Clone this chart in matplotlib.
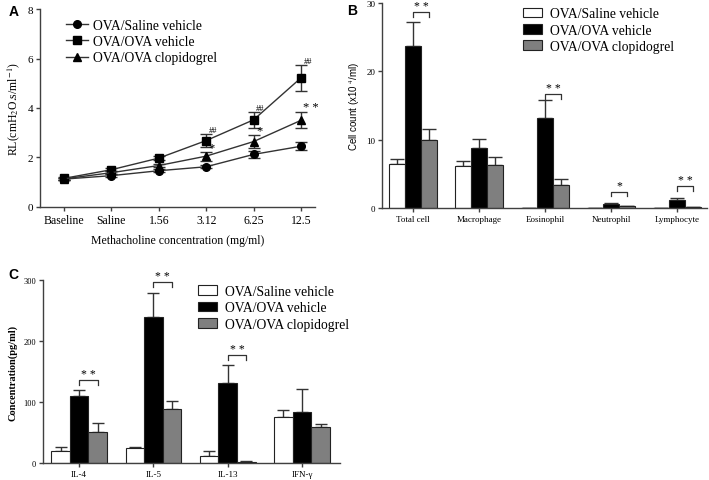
import matplotlib
matplotlib.use('Agg')
import numpy as np
import matplotlib.pyplot as plt
from matplotlib.patches import Patch
from matplotlib.lines import Line2D

plt.rcParams['font.family'] = ['Liberation Serif', 'DejaVu Serif']
plt.rcParams['mathtext.fontset'] = 'stix'

groups = ['OVA/Saline vehicle', 'OVA/OVA vehicle', 'OVA/OVA clopidogrel']

# panel A - lung resistance
doses = ['Baseline', 'Saline', '1.56', '3.12', '6.25', '12.5']
rl_saline = [1.12, 1.26, 1.46, 1.62, 2.12, 2.45]
rl_saline_err = [0.05, 0.05, 0.06, 0.07, 0.13, 0.16]
rl_ova = [1.15, 1.50, 1.97, 2.68, 3.52, 5.22]
rl_ova_err = [0.05, 0.06, 0.08, 0.28, 0.32, 0.52]
rl_clop = [1.13, 1.38, 1.67, 2.05, 2.64, 3.50]
rl_clop_err = [0.05, 0.05, 0.07, 0.18, 0.26, 0.33]
ova_marks = ['', '', '', '##', '##', '##']
clop_marks = ['', '', '', '*', '*', '**']

# panel B - BALF cells
cells = ['Total cell', 'Macrophage', 'Eosinophil', 'Neutrophil', 'Lymphocyte']
cell_saline = [6.4, 6.2, 0.05, 0.05, 0.05]
cell_saline_err = [0.7, 0.7, 0.02, 0.02, 0.02]
cell_ova = [23.7, 8.8, 13.1, 0.6, 1.2]
cell_ova_err = [3.5, 1.3, 2.7, 0.15, 0.3]
cell_clop = [10.0, 6.3, 3.4, 0.25, 0.15]
cell_clop_err = [1.5, 1.1, 0.9, 0.08, 0.05]
cell_sig = ['**', '', '**', '*', '**']
cell_sig_y = [28.6, 0, 16.6, 2.4, 3.2]

# panel C - cytokines
cytokines = ['IL-4', 'IL-5', 'IL-13', 'IFN-γ']
cy_saline = [19, 24, 11, 75]
cy_saline_err = [7, 3, 9, 12]
cy_ova = [109, 239, 131, 84]
cy_ova_err = [10, 40, 30, 37]
cy_clop = [51, 89, 2, 59]
cy_clop_err = [14, 12, 2, 5]
cy_sig = ['**', '**', '**', '']
cy_sig_y = [136, 296, 177, 0]

bar_colors = ['white', 'black', '#7f7f7f']
spine_col = '#404040'

fig = plt.figure(figsize=(7.09, 4.81), dpi=100)


def style_axes(ax):
    for s in ['top', 'right']:
        ax.spines[s].set_visible(False)
    for s in ['left', 'bottom']:
        ax.spines[s].set_color(spine_col)
        ax.spines[s].set_linewidth(1.0)
    ax.tick_params(direction='out', length=3, width=1, color=spine_col, pad=2)


# ---- A ----
axA = fig.add_axes([0.0564, 0.568, 0.3876, 0.411])
x = np.arange(len(doses))
markers = ['o', 's', '^']
series = [(rl_saline, rl_saline_err), (rl_ova, rl_ova_err), (rl_clop, rl_clop_err)]
for (vals, err), m in zip(series, markers):
    axA.errorbar(x, vals, yerr=err, color='#333333', lw=1.0, marker=m, ms=5.5,
                 mfc='black', mec='black', capsize=4, elinewidth=1.0)
for i, t in enumerate(ova_marks):
    if t:
        axA.text(x[i] + 0.05, rl_ova[i] + rl_ova_err[i] - 0.02, t, fontsize=6, ha='left', va='bottom')
for i, t in enumerate(clop_marks):
    if t:
        axA.text(x[i] + 0.05, rl_clop[i] + rl_clop_err[i] - 0.05, t.replace('*', '* ').strip(),
                 fontsize=9, ha='left', va='bottom')
axA.set_xlim(-0.505, 5.29)
axA.set_ylim(0, 8)
axA.set_yticks([0, 2, 4, 6, 8])
axA.set_xticks(x)
axA.set_xticklabels(doses, fontsize=8.5)
axA.tick_params(axis='y', labelsize=8)
axA.set_xlabel('Methacholine concentration (mg/ml)', fontsize=8.5, labelpad=6)
axA.set_ylabel(r'RL(cmH$_2$O.s/ml$^{-1}$)', fontsize=8.5, labelpad=4)
style_axes(axA)
hA = [Line2D([], [], color='#333333', lw=1.0, marker=m, ms=5.5, mfc='black', mec='black')
      for m in markers]
axA.legend(hA, groups, loc='upper left', bbox_to_anchor=(0.06, 1.0), frameon=False, fontsize=9.8,
           handlelength=1.6, handletextpad=0.4, labelspacing=0.25, borderpad=0.2)
fig.text(0.012, 0.975, 'A', fontsize=10, fontweight='bold', family='Liberation Sans', va='center')


def grouped_bars(ax, cats, data, errs, width, cap):
    xx = np.arange(len(cats))
    for k, (vals, err) in enumerate(zip(data, errs)):
        pos = xx + (k - 1) * width
        ax.bar(pos, vals, width, color=bar_colors[k], edgecolor='#222222', lw=0.8,
               label=groups[k], zorder=2)
        ax.errorbar(pos, vals, yerr=[np.zeros(len(vals)), err], fmt='none',
                    ecolor='#333333', elinewidth=1.0, capsize=cap, capthick=1.0, zorder=1)
    return xx


def brackets(ax, xx, width, sig, sig_y, leg, fs):
    for i, (t, y) in enumerate(zip(sig, sig_y)):
        if not t:
            continue
        x0, x1 = xx[i], xx[i] + width
        ax.plot([x0, x0, x1, x1], [y - leg, y, y, y - leg], color='#333333', lw=0.9)
        ax.text((x0 + x1) / 2, y, t.replace('*', '* ').strip(), ha='center', va='bottom', fontsize=fs)


# ---- B ----
axB = fig.add_axes([0.539, 0.5655, 0.458, 0.4265])
wB = 0.24
xb = grouped_bars(axB, cells, [cell_saline, cell_ova, cell_clop],
                  [cell_saline_err, cell_ova_err, cell_clop_err], wB, 5)
brackets(axB, xb, wB, cell_sig, cell_sig_y, 0.7, 8.5)
axB.set_xlim(-0.47, 4.45)
axB.set_ylim(0, 30)
axB.set_yticks([0, 10, 20, 30])
axB.set_xticks(xb)
axB.set_xticklabels(cells, fontsize=6.5)
axB.tick_params(axis='y', labelsize=6.5)
axB.set_ylabel(r'Cell count (x10 $^4$/ml)', fontsize=7, family='Liberation Sans', labelpad=3)
style_axes(axB)
hB = [Patch(facecolor=c, edgecolor='#222222', lw=0.8) for c in bar_colors]
axB.legend(hB, groups, loc='upper left', bbox_to_anchor=(0.405, 1.025), frameon=False,
           fontsize=9.8, handlelength=1.4, handleheight=0.75, handletextpad=0.6,
           labelspacing=0.25, borderpad=0.2)
fig.text(0.489, 0.978, 'B', fontsize=10, fontweight='bold', family='Liberation Sans', va='center')

# ---- C ----
axC = fig.add_axes([0.0606, 0.0353, 0.4189, 0.3807])
wC = 0.25
xc = grouped_bars(axC, cytokines, [cy_saline, cy_ova, cy_clop],
                  [cy_saline_err, cy_ova_err, cy_clop_err], wC, 4)
brackets(axC, xc, wC, cy_sig, cy_sig_y, 8, 8.5)
axC.set_xlim(-0.486, 3.51)
axC.set_ylim(0, 300)
axC.set_yticks([0, 100, 200, 300])
axC.set_xticks(xc)
axC.set_xticklabels(cytokines, fontsize=6.5)
axC.tick_params(axis='y', labelsize=6)
axC.set_ylabel('Concentration(pg/ml)', fontsize=7.5, fontweight='bold', labelpad=4)
style_axes(axC)
hC = [Patch(facecolor=c, edgecolor='#222222', lw=0.8) for c in bar_colors]
axC.legend(hC, groups, loc='upper left', bbox_to_anchor=(0.49, 1.025), frameon=False,
           fontsize=9.8, handlelength=1.4, handleheight=0.75, handletextpad=0.6,
           labelspacing=0.25, borderpad=0.2)
fig.text(0.012, 0.428, 'C', fontsize=10, fontweight='bold', family='Liberation Sans', va='center')

fig.savefig('out.png', dpi=100)
